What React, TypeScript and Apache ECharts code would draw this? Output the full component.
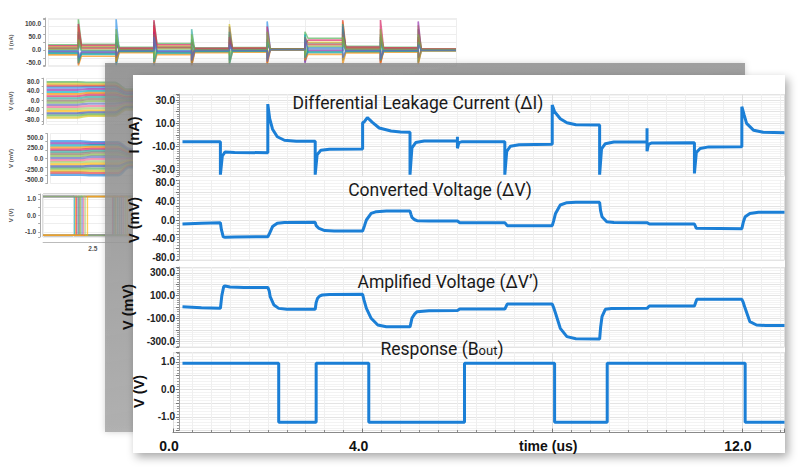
import React, { useEffect, useRef } from "react";
import * as echarts from "echarts";

// ---------- main panel data (time in us) ----------
const currentPts: number[][] = [
  [0.2, -5.8], [1.0, -5.8], [1.0, -34], [1.04, -18], [1.1, -14.5], [1.3, -15], [2.0, -15.2],
  [2.0, 26.5], [2.04, 14], [2.1, 5], [2.2, -1.5], [2.35, -4.5], [2.6, -5.4], [3.0, -5.4],
  [3.0, -34], [3.04, -17], [3.12, -13], [3.3, -12.2], [4.0, -12],
  [4.0, 10.5], [4.03, 11], [4.1, 15], [4.2, 11], [4.35, 6], [4.6, 3.5], [4.8, 2.5], [5.0, 2.3],
  [5.0, -34], [5.04, -11], [5.12, -6.5], [5.3, -5.2], [6.0, -4.9],
  [6.0, -1.5], [6.0, -11.4], [6.03, -6.5], [6.1, -5.7], [7.0, -5.7],
  [7.0, -34], [7.04, -14], [7.12, -9.6], [7.3, -8.3], [8.0, -8],
  [8.0, 25.7], [8.05, 20], [8.17, 14], [8.31, 10.5], [8.5, 8.8], [9.0, 8.6],
  [9.0, -34], [9.04, -12], [9.12, -7.5], [9.3, -6], [10.0, -5.7],
  [10.0, 5.7], [10.0, -14], [10.03, -8], [10.1, -6.8], [11.0, -6.6],
  [11.0, -33], [11.04, -15], [11.12, -11.5], [11.3, -10.2], [12.0, -10],
  [12.0, 24.3], [12.05, 17], [12.1, 10], [12.25, 4], [12.45, 2.3], [12.9, 2],
];

const convPts: number[][] = [
  [0.2, -8.5], [0.6, -7], [1.0, -5.8], [1.02, -20], [1.06, -36], [1.1, -37], [1.3, -36], [2.0, -35.5],
  [2.03, -30], [2.1, -14], [2.2, -7], [2.35, -5.5], [3.0, -5],
  [3.02, -12], [3.08, -18], [3.2, -22.5], [3.4, -23.5], [4.0, -23.5],
  [4.04, -12], [4.08, 0], [4.18, 14], [4.29, 17.8], [4.5, 19], [5.0, 19],
  [5.02, 12], [5.04, 5.7], [5.1, 0.5], [5.15, -1.4], [5.4, -2], [6.0, -2],
  [6.05, -5.7], [7.0, -5.7], [7.05, -12], [8.0, -12],
  [8.03, -2], [8.07, 14], [8.17, 32], [8.31, 37], [8.5, 37.7], [9.0, 37.7],
  [9.02, 20], [9.05, 7], [9.15, -3.6], [9.3, -5.5], [10.0, -5.7],
  [10.05, -8.5], [11.0, -8.5], [11.04, -17.8], [12.0, -18.5],
  [12.03, -5], [12.07, 7], [12.17, 14], [12.35, 16.3], [12.9, 16.3],
];

const ampPts: number[][] = [
  [0.2, 3], [0.6, -6], [1.0, -12], [1.03, 100], [1.07, 180], [1.1, 184], [1.2, 175], [1.5, 172], [2.0, 172],
  [2.03, 140], [2.05, 90], [2.13, 17], [2.23, -12], [2.4, -19], [3.0, -20],
  [3.02, 40], [3.05, 76], [3.1, 98], [3.15, 105], [3.3, 110], [4.0, 111],
  [4.03, 60], [4.08, -12], [4.18, -99], [4.32, -158], [4.5, -173], [5.0, -174],
  [5.02, -140], [5.04, -99], [5.1, -60], [5.15, -41], [5.4, -33], [6.0, -31],
  [6.05, -18], [7.0, -18], [7.05, 26], [8.0, 26],
  [8.03, -5], [8.07, -55], [8.17, -187], [8.31, -260], [8.5, -278], [9.0, -281],
  [9.02, -180], [9.05, -85], [9.12, -20], [9.25, -13], [10.0, -12],
  [10.05, 9], [11.0, 9], [11.05, 68], [12.0, 68],
  [12.03, 40], [12.07, -12], [12.17, -129], [12.31, -158], [12.5, -162], [12.9, -162],
];

const respPts: number[][] = [
  [0.2, 0.95], [2.23, 0.95], [2.23, -1.2], [3.02, -1.2], [3.02, 0.95], [4.13, 0.95], [4.13, -1.2],
  [6.15, -1.2], [6.15, 0.95], [8.05, 0.95], [8.05, -1.2], [9.16, -1.2], [9.16, 0.95],
  [12.07, 0.95], [12.07, -1.2], [12.9, -1.2],
];

const panelTitles = [
  "Differential Leakage Current (ΔI)",
  "Converted Voltage (ΔV)",
  "Amplified Voltage (ΔV’)",
  "{a|Response (B}{s|out}{a|)}",
];
const yNames = ["I (nA)", "V (mV)", "V (mV)", "V (V)"];
const yTickLabels = [
  [30, 10, -10, -30],
  [80, 40, 0, -40, -80],
  [300, 100, -100, -300],
  [1, 0, -1],
];
const yRanges = [
  [-35, 35],
  [-85, 85],
  [-350, 350],
  [-1.5, 1.35],
];
const xTickLabels = [0, 4, 8, 12];

// ---------- background (Monte-Carlo) plot data ----------
const bgEvents = [2, 3, 4, 5, 6, 7, 8, 9, 10, 11];
const bgColors = ["#4caf50", "#d4c21a", "#e53935", "#1e88e5", "#8e24aa", "#00acc1", "#fb8c00", "#d81b60", "#26a69a", "#8d6e63", "#7cb342", "#5c6bc0", "#f06292", "#9ccc65", "#ffb300", "#3949ab"];
const bgILevels = [
  [20, 22, 10, 25, 8, 9, 3, 45, 14, 10, 5],
  [12, 14, 5, 15, 4, 6, 5, 30, 8, 6, 3],
  [5, 6, 2, 8, 2, 3, 4, 20, 4, 3, 1],
  [-2, -3, -1, -2, -1, 0, 2, 8, 0, -1, 0],
  [-8, -10, -4, -8, -4, -3, 1, -3, -4, -3, -2],
  [-14, -17, -7, -13, -7, -6, 0, -10, -8, -6, -3],
  [-19, -24, -10, -18, -10, -9, -1, -17, -11, -9, -4],
  [16, 18, 7, 20, 6, 7, 4, 38, 11, 8, 4],
  [-11, -14, -6, -10, -6, -5, 2, -7, -6, -5, -2],
  [8, 10, 3, 11, 3, 4, 5, 25, 6, 5, 2],
  [2, 0, 0, 4, 0, 1, 3, 14, 2, 1, 1],
  [-5, -7, -3, -5, -2, -2, 1, 3, -2, -2, -1],
];
const bgISpikes = [
  [118, 40, 110, -30, 60, 40, 70, 80, 60, 80],
  [90, -40, 80, -50, 100, -20, 40, 110, -40, 95],
  [60, -55, 95, -45, 40, -50, 30, 115, -55, 50],
  [30, 118, -60, 40, -40, 110, -45, 30, 40, -50],
  [-55, 30, 70, -58, 30, 20, -50, 90, -45, 110],
  [-40, -58, 40, -50, 70, -35, 60, -40, 30, -45],
  [-60, -45, -55, -60, -50, -55, -40, -55, -50, -55],
  [100, 20, 115, 30, 50, 90, 20, 70, 115, 40],
  [-50, 60, -45, 80, -55, 30, -30, 100, -40, 30],
  [70, -30, 60, -40, 90, -40, 50, 60, 50, -30],
  [40, 80, -30, 60, -20, 70, -20, 50, 80, 60],
  [-30, -20, 50, -40, 20, -45, 40, -30, -35, 20],
];
const bgVLevels = [
  [76, 74, 45], [68, 66, 40], [60, 60, 36], [52, 54, 31], [43, 46, 26], [34, 38, 21],
  [25, 30, 16], [16, 22, 11], [7, 13, 6], [-2, 4, 1], [-11, -5, -4], [-20, -15, -9],
  [-29, -25, -14], [-38, -35, -19], [-47, -44, -24], [-56, -52, -29], [-65, -60, -34], [-74, -67, -40],
];
const bgAmpLevels = [
  [410, 390, 230], [360, 350, 200], [310, 315, 175], [260, 275, 150], [210, 230, 120], [160, 185, 95],
  [110, 140, 70], [60, 90, 45], [10, 40, 15], [-40, -15, -10], [-90, -70, -40], [-140, -125, -65],
  [-190, -180, -95], [-240, -240, -125], [-290, -295, -150], [-340, -350, -180], [-390, -400, -210],
];
const bgDigital = [
  [1, 2.02, 3.05], [0, 2.05, 3.1], [1, 2.08, 3.02], [0, 2.12, 3.15], [1, 2.15, 3.2],
  [0, 2.18, 3.08], [1, 2.22, 3.25], [0, 2.26, 3.3], [1, 2.3, 3.35], [0, 2.36, 3.4],
];
const bgYTickLabels = [
  [100, 50, 0, -50],
  [80, 40, 0, -40, -80],
  [500, 250, 0, -250, -500],
  [1, 0, -1],
];
const bgYRanges = [
  [-62, 123],
  [-100, 92],
  [-595, 595],
  [-1.3, 1.3],
];
const bgYNames = ["I (nA)", "V (mV)", "V (mV)", "V (V)"];

const BLUE = "#1b7fd6";
const BOLD = "Liberation Sans, Arial, sans-serif";

function buildOption() {
  const mainGrids = [
    { left: 173, width: 611.5, top: 94.2, height: 81.6 },
    { left: 173, width: 611.5, top: 180.1, height: 79.8 },
    { left: 173, width: 611.5, top: 267.1, height: 79.8 },
    { left: 173, width: 611.5, top: 352.2, height: 78.35 },
  ];
  const bgGrids = [
    { left: 31, width: 425, top: 18, height: 48.1 },
    { left: 31, width: 425, top: 78.2, height: 45.6 },
    { left: 31, width: 425, top: 133.5, height: 50 },
    { left: 31, width: 425, top: 194, height: 42.9, show: true, borderColor: "#aaa", borderWidth: 1 },
  ];
  const grid: any[] = [...mainGrids, ...bgGrids];

  const xAxis: any[] = [];
  const yAxis: any[] = [];
  const series: any[] = [];

  mainGrids.forEach((_, i) => {
    const bottom = i === 3;
    xAxis.push({
      type: "value",
      gridIndex: i,
      min: 0,
      max: 12.9,
      interval: 4,
      z: 20,
      offset: bottom ? 2 : 0,
      axisLine: { show: bottom, onZero: false, lineStyle: { color: "#8a8a8a", width: 1.2 } },
      axisTick: { show: bottom, inside: true, length: 4, lineStyle: { color: "#777" } },
      minorTick: { show: bottom, splitNumber: 10, length: 2.5, lineStyle: { color: "#888" } },
      axisLabel: {
        show: bottom,
        customValues: xTickLabels,
        formatter: (v: number) => (v === 8 ? "time (us)" : v.toFixed(1)),
        fontFamily: BOLD,
        fontWeight: "bold",
        fontSize: 14,
        color: "#111",
        margin: 6,
        padding: [0, 8, 0, 0],
      },
      splitLine: { show: true, lineStyle: { color: "#dedede", width: 1 } },
      minorSplitLine: { show: true, lineStyle: { color: "#efefef", width: 1 } },
    });
    yAxis.push({
      type: "value",
      gridIndex: i,
      min: yRanges[i][0],
      max: yRanges[i][1],
      z: 20,
      offset: -6,
      name: yNames[i],
      nameLocation: "middle",
      nameRotate: 90,
      nameGap: 22,
      nameTextStyle: { fontFamily: BOLD, fontWeight: "bold", fontSize: 14.5, color: "#111" },
      axisLine: { show: true, onZero: false, lineStyle: { color: "#9a9a9a", width: 1 } },
      axisTick: { show: true, length: 3, lineStyle: { color: "#777" } },
      minorTick: { show: true, splitNumber: 5, length: 2, lineStyle: { color: "#999" } },
      axisLabel: {
        customValues: yTickLabels[i],
        formatter: (v: number) => v.toFixed(1),
        fontFamily: BOLD,
        fontWeight: "bold",
        fontSize: 10,
        color: "#222",
        margin: 4,
      },
      splitLine: { show: true, lineStyle: { color: "#e4e4e4", width: 1 } },
      minorSplitLine: { show: true, lineStyle: { color: "#f3f3f3", width: 1 } },
    });
  });

  const mainData = [currentPts, convPts, ampPts, respPts];
  mainData.forEach((d, i) => {
    series.push({
      type: "line",
      xAxisIndex: i,
      yAxisIndex: i,
      data: d,
      showSymbol: false,
      z: 21,
      lineStyle: { color: BLUE, width: 3 },
      itemStyle: { color: BLUE },
    });
  });

  bgGrids.forEach((_, k) => {
    const gi = k + 4;
    const last = k === 3;
    xAxis.push({
      type: "value",
      gridIndex: gi,
      min: 1.2,
      max: 12,
      z: 1,
      offset: last ? 5 : 0,
      axisLine: { show: last, onZero: false, lineStyle: { color: "#bbb" } },
      axisTick: { show: false },
      axisLabel: {
        show: last,
        customValues: [2.5],
        formatter: (v: number) => v.toFixed(1),
        fontFamily: BOLD,
        fontWeight: "bold",
        fontSize: 6.5,
        color: "#555",
        margin: 3,
      },
      splitLine: { show: true, lineStyle: { color: "#eeeeee" } },
    });
    yAxis.push({
      type: "value",
      gridIndex: gi,
      min: bgYRanges[k][0],
      max: bgYRanges[k][1],
      z: 1,
      offset: 3,
      name: bgYNames[k],
      nameLocation: "middle",
      nameRotate: 90,
      nameGap: 20,
      nameTextStyle: { fontFamily: BOLD, fontWeight: "bold", fontSize: 6, color: "#555" },
      axisLine: { show: true, onZero: false, lineStyle: { color: "#aaa" } },
      axisTick: { show: true, length: 2, lineStyle: { color: "#aaa" } },
      axisLabel: {
        customValues: bgYTickLabels[k],
        formatter: (v: number) => v.toFixed(1),
        fontFamily: BOLD,
        fontWeight: "bold",
        fontSize: 6.5,
        color: "#444",
        margin: 4,
      },
      splitLine: { show: true, lineStyle: { color: "#eeeeee" } },
    });
  });

  const bgLine = (gi: number, data: number[][], color: string, smooth = false, width = 1.2) => ({
    type: "line",
    xAxisIndex: gi,
    yAxisIndex: gi,
    data,
    showSymbol: false,
    silent: true,
    z: 1,
    smooth: smooth ? 0.35 : false,
    smoothMonotone: "x",
    lineStyle: { color, width, opacity: 0.65 },
  });

  bgILevels.forEach((lv, r) => {
    const d: number[][] = [[1.2, lv[0]]];
    bgEvents.forEach((t, i) => {
      d.push([t, lv[i]], [t, bgISpikes[r][i]], [t + 0.08, lv[i + 1]]);
    });
    d.push([12, lv[10]]);
    series.push(bgLine(4, d, bgColors[r % bgColors.length], false, 1.6));
  });
  bgVLevels.forEach((lv, r) => {
    const d = [[1.2, lv[0]], [2.0, lv[0]], [2.3, lv[1]], [3.0, lv[1]], [3.3, lv[2]], [12, lv[2]]];
    series.push(bgLine(5, d, bgColors[r % bgColors.length], true, 2.2));
  });
  bgAmpLevels.forEach((lv, r) => {
    const d = [[1.2, lv[0]], [2.0, lv[0]], [2.3, lv[1]], [3.0, lv[1]], [3.3, lv[2]], [12, lv[2]]];
    series.push(bgLine(6, d, bgColors[(r + 3) % bgColors.length], true, 2.4));
  });
  bgDigital.forEach((run, r) => {
    const a = run[0] ? 1.15 : -1.2;
    const b = run[0] ? -1.2 : 1.15;
    const d = [[1.2, a], [run[1], a], [run[1], b], [run[2], b], [run[2], a], [12, a]];
    series.push(bgLine(7, d, bgColors[(r + 5) % bgColors.length], false, 1.4));
  });

  const titlePos = [
    [418, 103],
    [440, 190],
    [448, 282],
    [442, 349],
  ];
  const titleFont = "Roboto, 'Noto Sans', sans-serif";
  const graphic: any[] = [
    {
      type: "rect",
      z: 10,
      silent: true,
      shape: { x: 105, y: 63, width: 640, height: 369 },
      style: {
        fill: new echarts.graphic.LinearGradient(0, 0, 0.3, 1, [
          { offset: 0, color: "rgba(135,135,135,0.82)" },
          { offset: 1, color: "rgba(172,172,172,0.88)" },
        ]),
        shadowBlur: 6,
        shadowColor: "rgba(0,0,0,0.2)",
      },
    },
    {
      type: "rect",
      z: 11,
      silent: true,
      shape: { x: 133, y: 75, width: 652, height: 378 },
      style: {
        fill: "#ffffff",
        shadowBlur: 10,
        shadowOffsetX: 3,
        shadowOffsetY: 4,
        shadowColor: "rgba(0,0,0,0.35)",
      },
    },
  ];
  panelTitles.forEach((t, i) => {
    graphic.push({
      type: "text",
      z: 30,
      x: titlePos[i][0],
      y: titlePos[i][1],
      style: {
        text: t,
        fontFamily: titleFont,
        fontSize: 17.5,
        fill: "#1a1a1a",
        align: "center",
        verticalAlign: "middle",
        rich: {
          a: { fontFamily: titleFont, fontSize: 17.5, fill: "#1a1a1a", color: "#1a1a1a", verticalAlign: "bottom" },
          s: { fontFamily: titleFont, fontSize: 13, fill: "#1a1a1a", color: "#1a1a1a", verticalAlign: "bottom", padding: [0, 0, 1, 0] },
        },
      },
    });
  });

  return { animation: false, grid, xAxis, yAxis, series, graphic };
}

export default function App() {
  const ref = useRef<HTMLDivElement>(null);
  useEffect(() => {
    if (!ref.current) return;
    const chart = echarts.init(ref.current, undefined, { renderer: "svg" });
    chart.setOption(buildOption() as any);
    return () => chart.dispose();
  }, []);
  return (
    <div
      ref={ref}
      style={{ position: "fixed", left: 0, top: 0, width: 800, height: 469, background: "#fff" }}
    />
  );
}
